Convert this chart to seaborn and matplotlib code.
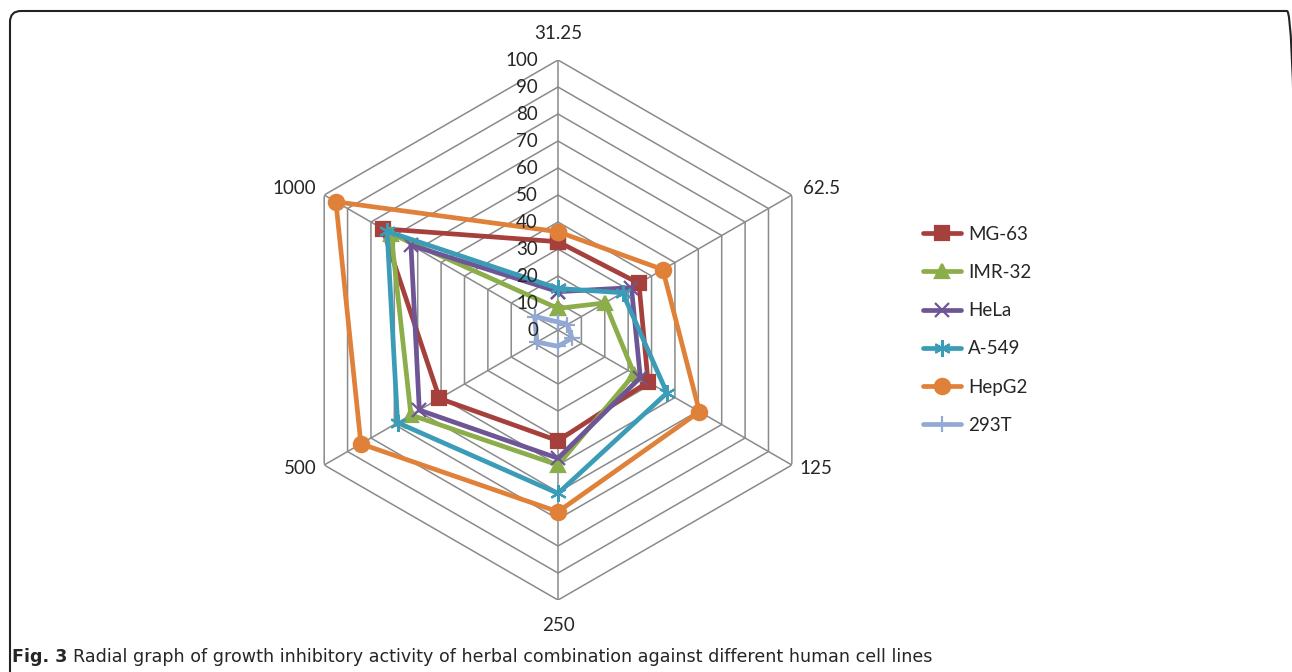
import numpy as np
import pandas as pd
import seaborn as sns
import matplotlib.pyplot as plt
from matplotlib.patches import FancyBboxPatch
from matplotlib.transforms import IdentityTransform

# concentrations (axes of the radar)
categories = ['31.25', '62.5', '125', '250', '500', '1000']
cell_lines = ['MG-63', 'IMR-32', 'HeLa', 'A-549', 'HepG2', '293T']

# % growth inhibition
mg63 = [32.7, 34.6, 38.5, 41.0, 50.7, 75.0]
imr32 = [8.0, 20.1, 32.6, 50.0, 62.9, 71.4]
hela = [14.2, 31.4, 35.2, 47.5, 59.3, 62.9]
a549 = [15.4, 27.6, 46.6, 60.5, 68.6, 73.1]
hepg2 = [36.4, 44.8, 60.5, 67.3, 84.3, 95.0]
t293 = [3.0, 4.0, 6.0, 6.0, 9.0, 10.0]

radial_ticks = list(range(0, 101, 10))

colors = ['#A5403D', '#8BAD4A', '#6E5596', '#3A9CB7', '#E0813A', '#92AAD3']
markers = ['s', '^', 'x', (6, 2, 0), 'o', '+']
msizes = [10, 10, 10, 12, 11, 12]

# label offsets (pixels) from the tip of each spoke
cat_offsets = [(0, 27), (30, 7), (24, -3), (0, -25), (-24, -3), (-30, 7)]

sns.set_style('white')
plt.rcParams['font.family'] = ['Lato', 'DejaVu Sans']

values = [mg63, imr32, hela, a549, hepg2, t293]
n = len(categories)
theta = np.linspace(0, 2 * np.pi, n, endpoint=False)
theta_closed = np.append(theta, 2 * np.pi)

rows = []
for name, vals in zip(cell_lines, values):
    for t, v in zip(theta_closed, vals + vals[:1]):
        rows.append({'cell': name, 'theta': t, 'value': v})
df = pd.DataFrame(rows)

fig = plt.figure(figsize=(12.92, 6.72), dpi=100)
ax = fig.add_axes([0.2229, 0.1071, 0.418, 0.8036], projection='polar')
ax.set_theta_zero_location('N')
ax.set_theta_direction(-1)
ax.set_ylim(0, 100)
ax.grid(False)
ax.set_xticks([])
ax.set_yticks([])
ax.spines['polar'].set_visible(False)
ax.patch.set_alpha(0)

# hexagonal grid
grid_c = '#8A8A8A'
for r in radial_ticks[1:]:
    ax.plot(theta_closed, [r] * (n + 1), color=grid_c, lw=1.1, zorder=0)
for t in theta:
    ax.plot([t, t], [0, 100], color=grid_c, lw=1.1, zorder=0)

for name, col, mk, ms in zip(cell_lines, colors, markers, msizes):
    sub = df[df['cell'] == name]
    sns.lineplot(data=sub, x='theta', y='value', ax=ax, sort=False,
                 estimator=None, color=col, lw=3.4, marker=mk, markersize=ms,
                 markeredgecolor=col, markerfacecolor=col, markeredgewidth=1.6,
                 label=name, clip_on=False, zorder=3)
ax.set_xlabel('')
ax.set_ylabel('')
handles, labels = ax.get_legend_handles_labels()
ax.get_legend().remove()

# radial tick labels
for r in radial_ticks:
    ax.annotate(str(r), xy=(0, r), xytext=(-20, 0), textcoords='offset pixels',
                ha='right', va='center', fontsize=13.5)

# category labels
for t, lab, off in zip(theta, categories, cat_offsets):
    ax.annotate(lab, xy=(t, 100), xytext=off, textcoords='offset pixels',
                ha='center', va='center', fontsize=13.5)

fig.legend(handles, labels, loc='upper left', bbox_to_anchor=(0.7015, 0.689),
           frameon=False, fontsize=13.5, handlelength=2.0, handletextpad=0.4,
           labelspacing=1.13)

# panel frame
frame = FancyBboxPatch((10, -40), 1288, 701, boxstyle='round,pad=0,rounding_size=11',
                       transform=IdentityTransform(), fill=False, ec='#222222', lw=1.5)
fig.add_artist(frame)

cap_y = 1 - 657 / 672
t1 = fig.text(12 / 1292, cap_y, 'Fig. 3', fontweight='bold', fontsize=12.6,
              va='center', ha='left', family='DejaVu Sans')
fig.canvas.draw()
bb = t1.get_window_extent()
fig.text((bb.x1 + 6) / 1292, cap_y,
         'Radial graph of growth inhibitory activity of herbal combination against different human cell lines',
         fontsize=12.6, va='center', ha='left', family='DejaVu Sans')

fig.savefig('out.png', dpi=100)
